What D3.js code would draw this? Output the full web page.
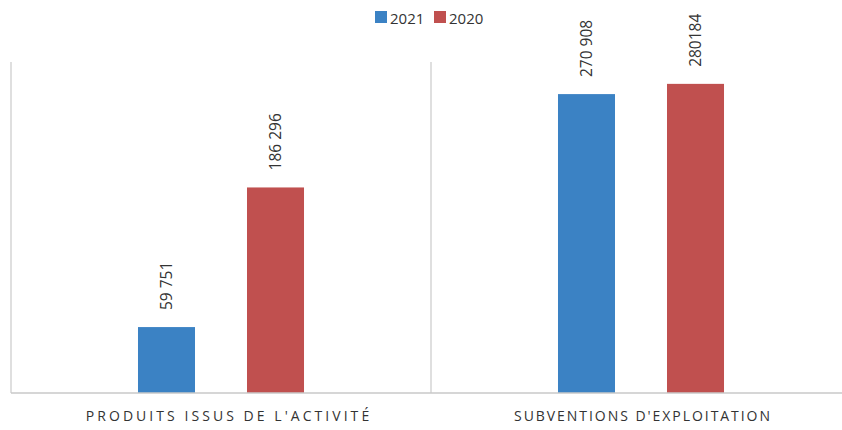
<!DOCTYPE html>
<html>
<head>
<meta charset="utf-8">
<script src="https://cdn.jsdelivr.net/npm/d3@7"></script>
<style>
  body { margin: 0; background: #fff; }
  text { font-family: "Open Sans", "Noto Sans", sans-serif; fill: #333; }
</style>
</head>
<body>
<div id="chart"></div>
<script>
var width  = 842;
var height = 430;

var categories = ["PRODUITS ISSUS DE L'ACTIVITÉ", "SUBVENTIONS D'EXPLOITATION"];
var years = ["2021", "2020"];
var values2021 = [59751, 270908];
var values2020 = [186296, 280184];
var valueLabels2021 = ["59 751", "270 908"];
var valueLabels2020 = ["186 296", "280184"];
var yTicks = [0, 300000];

var colors = { "2021": "#3b82c4", "2020": "#c0504f" };
// letter spacing of the category labels, the scan shows them at slightly different widths
var catSpacing = [3.05, 1.95];

var margin = { top: 62, right: -9, bottom: 37, left: 11 };
var plotW = width - margin.left - margin.right;
var plotH = height - margin.top - margin.bottom;

var svg = d3.select("#chart").append("svg")
  .attr("width", width)
  .attr("height", height);

var g = svg.append("g").attr("transform", "translate(" + margin.left + "," + margin.top + ")");

var x0 = d3.scaleBand().domain(categories).range([0, plotW]).padding(0);
var x1 = d3.scaleBand().domain(years).range([0, x0.bandwidth()])
  .paddingInner(0.477).paddingOuter(1.165);
var y = d3.scaleLinear().domain(d3.extent(yTicks)).range([plotH, 0]);

// rows for each category
var rows = categories.map(function(c, i) {
  return [
    { cat: c, year: "2021", value: values2021[i], label: valueLabels2021[i] },
    { cat: c, year: "2020", value: values2020[i], label: valueLabels2020[i] }
  ];
});

// left axis line and category dividers
g.append("line")
  .attr("x1", 0).attr("x2", 0)
  .attr("y1", y(300000)).attr("y2", y(0))
  .attr("stroke", "#d4d4d4").attr("stroke-width", 1.5);

g.append("line")
  .attr("x1", x0(categories[1])).attr("x2", x0(categories[1]))
  .attr("y1", y(300000)).attr("y2", y(0))
  .attr("stroke", "#d4d4d4").attr("stroke-width", 1.5);

var groups = g.selectAll(".cat").data(rows).enter().append("g")
  .attr("class", "cat")
  .attr("transform", function(d) { return "translate(" + x0(d[0].cat) + ",0)"; });

groups.selectAll("rect").data(function(d) { return d; }).enter().append("rect")
  .attr("x", function(d) { return x1(d.year); })
  .attr("y", function(d) { return y(d.value); })
  .attr("width", x1.bandwidth())
  .attr("height", function(d) { return y(0) - y(d.value); })
  .attr("fill", function(d) { return colors[d.year]; });

groups.selectAll(".val").data(function(d) { return d; }).enter().append("text")
  .attr("class", "val")
  .attr("transform", function(d) {
    return "translate(" + (x1(d.year) + x1.bandwidth() / 2 + 5.5) + "," + (y(d.value) - 17) + ") rotate(-90)";
  })
  .attr("text-anchor", "start")
  .style("font-size", "15.5px")
  .text(function(d) { return d.label; });

// baseline
g.append("line")
  .attr("x1", 0).attr("x2", width - margin.left)
  .attr("y1", y(0)).attr("y2", y(0))
  .attr("stroke", "#c8c8c8").attr("stroke-width", 1.5);

// category labels
g.selectAll(".catlabel").data(categories).enter().append("text")
  .attr("class", "catlabel")
  .attr("x", function(d, i) { return x0(d) + x0.bandwidth() / 2 + (i === 0 ? 8 : 2); })
  .attr("y", plotH + 28)
  .attr("text-anchor", "middle")
  .style("font-size", "14px")
  .style("letter-spacing", function(d, i) { return catSpacing[i] + "px"; })
  .text(function(d) { return d; });

// legend
var legend = svg.append("g").attr("transform", "translate(375,0)");
years.forEach(function(yr, i) {
  var lg = legend.append("g").attr("transform", "translate(" + (i * 59) + ",0)");
  lg.append("rect").attr("x", 0).attr("y", 11).attr("width", 12).attr("height", 12)
    .attr("fill", colors[yr]);
  lg.append("text").attr("x", 15).attr("y", 23.5)
    .style("font-size", "15px")
    .text(yr);
});
</script>
</body>
</html>
